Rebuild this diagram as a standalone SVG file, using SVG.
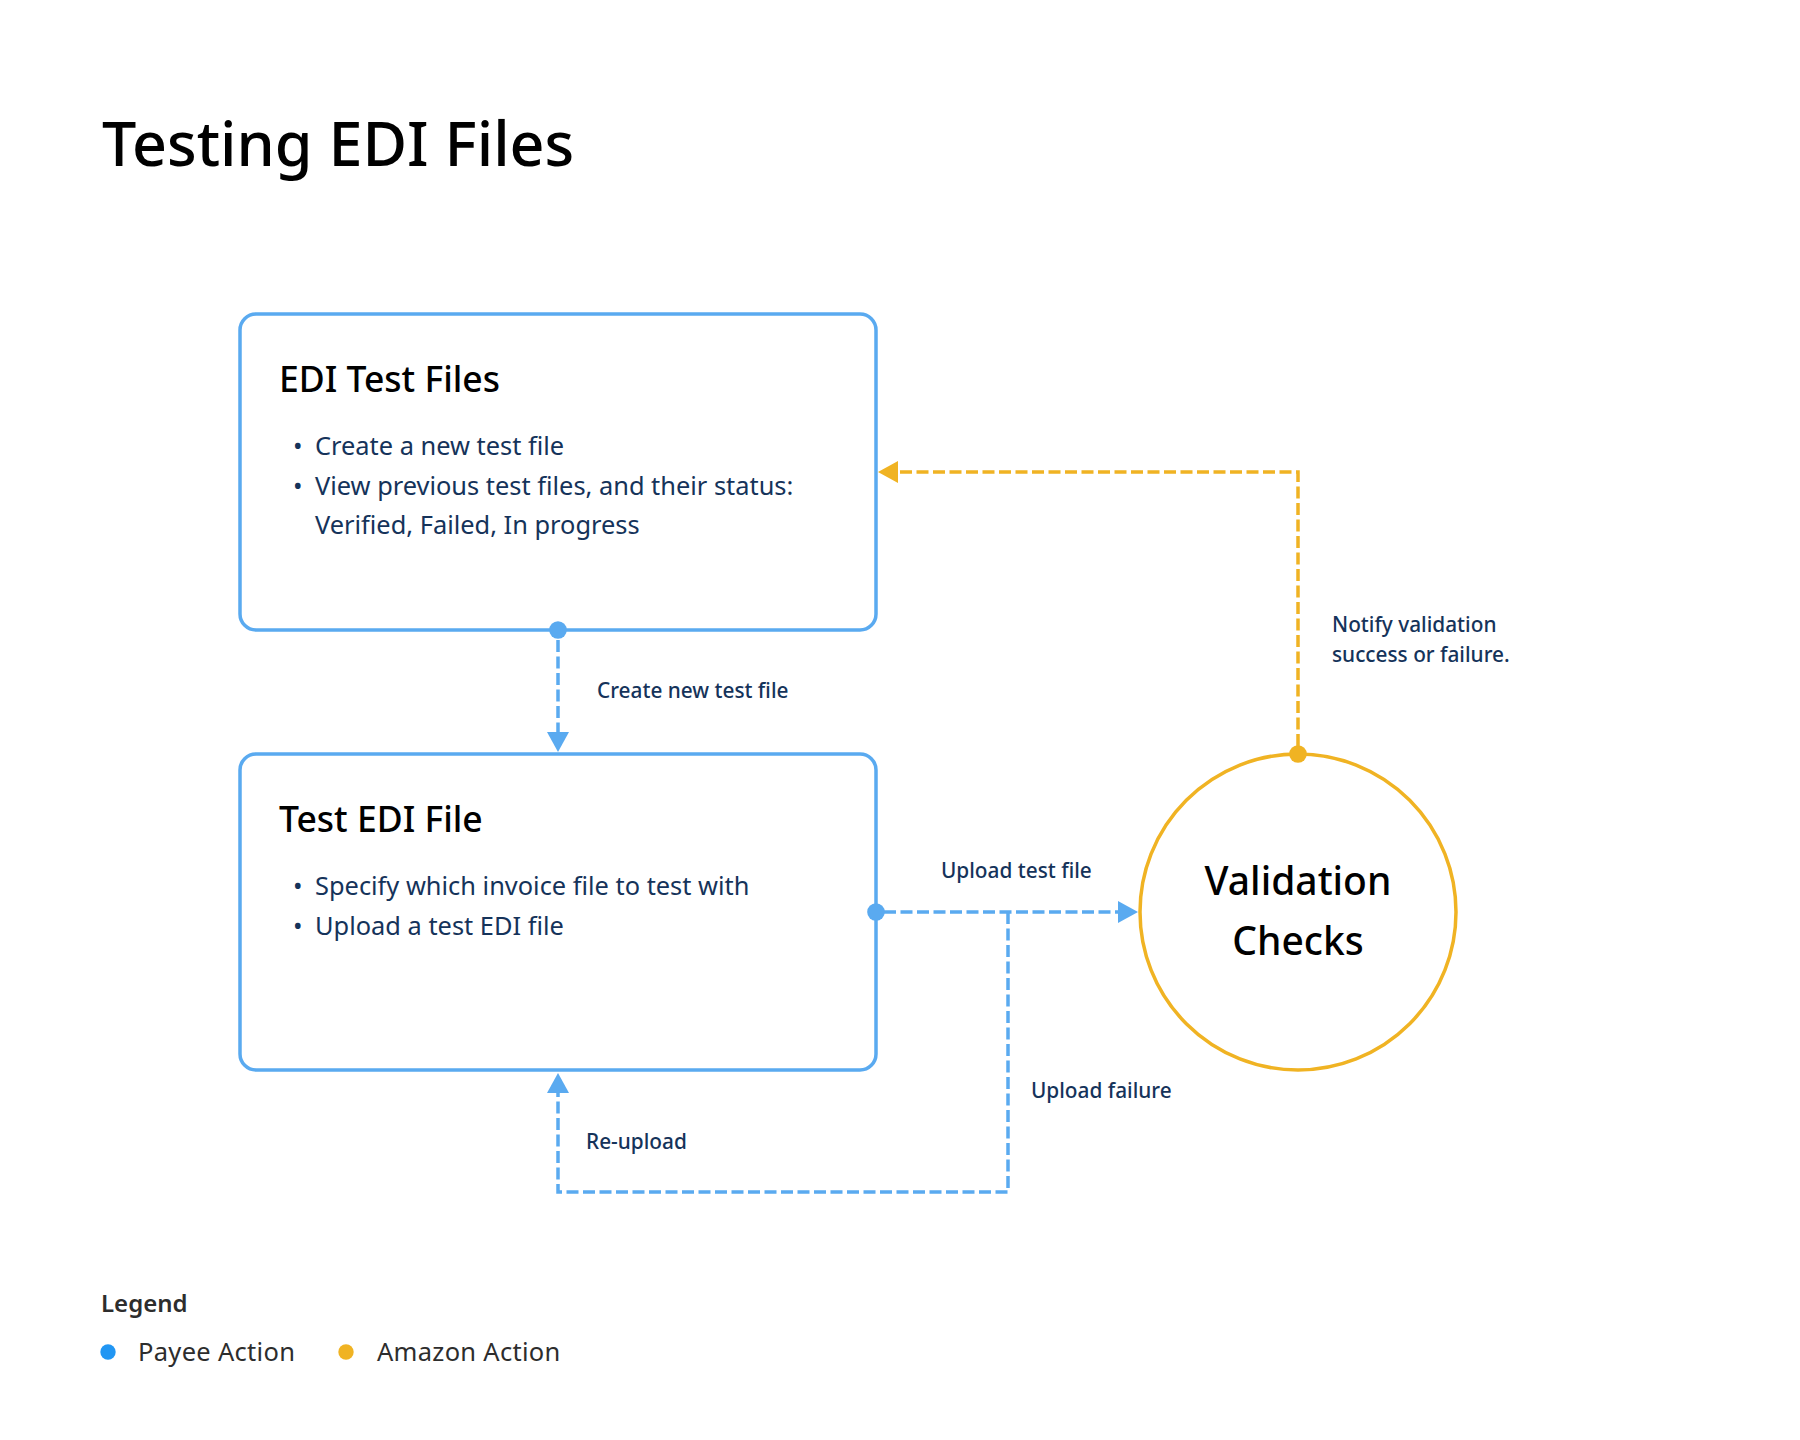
<svg xmlns="http://www.w3.org/2000/svg" width="1800" height="1440" viewBox="0 0 1800 1440">
  <style>
    .font { font-family: "Noto Sans", "Open Sans", "Liberation Sans", sans-serif; }
    .title { font-size: 61px; font-weight: 500; fill: #000000; }
    .node-title { font-size: 35.5px; font-weight: 500; fill: #000000; }
    .bullet { font-size: 25.4px; fill: #15335A; }
    .label { font-size: 20.8px; fill: #15335A; font-weight: 500; }
    .box { fill: #FFFFFF; stroke: #5AAAF0; stroke-width: 3.5; }
    .circle { fill: #FFFFFF; stroke: #F0B323; stroke-width: 3.5; }
    .dash-blue { fill: none; stroke: #5AAAF0; stroke-width: 3.5; stroke-dasharray: 12 4.5; }
    .dash-yellow { fill: none; stroke: #F0B323; stroke-width: 3.5; stroke-dasharray: 12 4.5; }
    .circ-text { font-size: 39px; font-weight: 500; fill: #000000; text-anchor: middle; }
    .legend-title { font-size: 24px; font-weight: 600; fill: #2D2D2D; }
    .legend-text { font-size: 25.5px; fill: #2D2D2D; letter-spacing: 0.3px; }
  </style>
  <defs>
    <marker id="arrow-blue" viewBox="0 0 20 22" refX="0" refY="11" markerWidth="20" markerHeight="22" markerUnits="userSpaceOnUse" orient="auto">
      <path d="M0,0 L20,11 L0,22 Z" fill="#5AAAF0"/>
    </marker>
    <marker id="arrow-yellow" viewBox="0 0 20 22" refX="0" refY="11" markerWidth="20" markerHeight="22" markerUnits="userSpaceOnUse" orient="auto">
      <path d="M0,0 L20,11 L0,22 Z" fill="#F0B323"/>
    </marker>
  </defs>

  <rect x="0" y="0" width="1800" height="1440" fill="#FFFFFF"/>

  <text id="title" class="font title" x="102" y="166">Testing EDI Files</text>

  <g id="node-edi-test-files">
    <rect class="box" x="240" y="314" width="636" height="316" rx="16" ry="16"/>
    <text class="font node-title" x="279" y="392">EDI Test Files</text>
    <text class="font bullet" x="293" y="455">•</text>
    <text class="font bullet" x="315" y="455">Create a new test file</text>
    <text class="font bullet" x="293" y="495">•</text>
    <text class="font bullet" x="315" y="495">View previous test files, and their status:</text>
    <text class="font bullet" x="315" y="534">Verified, Failed, In progress</text>
  </g>

  <g id="node-test-edi-file">
    <rect class="box" x="240" y="754" width="636" height="316" rx="16" ry="16"/>
    <text class="font node-title" x="279" y="832">Test EDI File</text>
    <text class="font bullet" x="293" y="895">•</text>
    <text class="font bullet" x="315" y="895">Specify which invoice file to test with</text>
    <text class="font bullet" x="293" y="935">•</text>
    <text class="font bullet" x="315" y="935">Upload a test EDI file</text>
  </g>

  <g id="node-validation-checks">
    <circle class="circle" cx="1298" cy="912" r="158"/>
    <text class="font circ-text" x="1298" y="895">Validation</text>
    <text class="font circ-text" x="1298" y="955">Checks</text>
  </g>

  <g id="connectors">
    <!-- Create new test file -->
    <path class="dash-blue" d="M558,640 L558,732" marker-end="url(#arrow-blue)"/>
    <circle cx="558" cy="630" r="8.8" fill="#5AAAF0"/>
    <!-- Upload test file -->
    <path class="dash-blue" d="M884,912 L1118,912" marker-end="url(#arrow-blue)"/>
    <!-- Upload failure / Re-upload -->
    <path class="dash-blue" d="M1008,912 L1008,1192 L558,1192 L558,1093" marker-end="url(#arrow-blue)"/>
    <circle cx="876" cy="912" r="8.8" fill="#5AAAF0"/>
    <!-- Notify validation -->
    <path class="dash-yellow" d="M1298,746 L1298,472 L898,472" marker-end="url(#arrow-yellow)"/>
    <circle cx="1298" cy="754" r="8.8" fill="#F0B323"/>

    <text class="font label" x="597" y="698">Create new test file</text>
    <text class="font label" x="941" y="878">Upload test file</text>
    <text class="font label" x="1031" y="1098">Upload failure</text>
    <text class="font label" x="586" y="1149">Re-upload</text>
    <text class="font label" x="1332" y="632">Notify validation</text>
    <text class="font label" x="1332" y="662">success or failure.</text>
  </g>

  <g id="legend">
    <text class="font legend-title" x="101" y="1312">Legend</text>
    <circle cx="108" cy="1352" r="7.7" fill="#2196F3"/>
    <text class="font legend-text" x="138" y="1361">Payee Action</text>
    <circle cx="346" cy="1352" r="7.7" fill="#F0B323"/>
    <text class="font legend-text" x="377" y="1361">Amazon Action</text>
  </g>
</svg>
